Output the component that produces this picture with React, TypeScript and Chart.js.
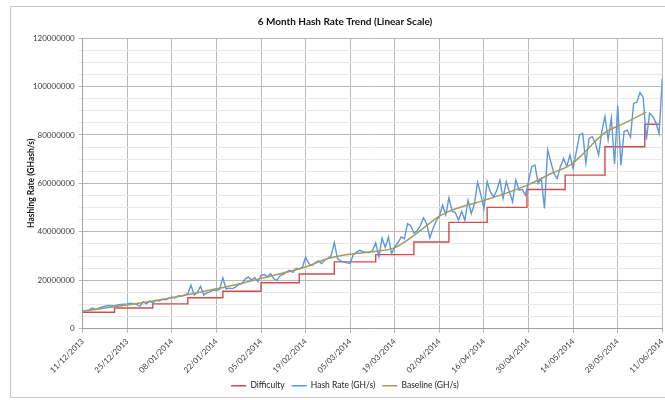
import React, { useEffect, useRef } from "react";
import { Chart, registerables } from "chart.js";

Chart.register(...registerables);

// ---- data (values in millions of GH/s) ----
const START_DATE_UTC = Date.UTC(2013, 11, 11); // 11/12/2013 = day 0
const xTickStepDays = 14;
const lastDay = 182;

// daily hash rate, index = day since 11/12/2013
const hashRate = [
  7.2, 7.5, 7.8, 8.6, 8.0, 8.5, 8.9, 9.3, 9.6, 9.5,
  9.4, 9.8, 10.0, 10.2, 10.3, 10.6, 10.4, 10.0, 9.4, 11.2,
  10.3, 11.5, 10.6, 11.8, 11.5, 12.2, 12.0, 12.6, 13.0, 12.8,
  13.6, 13.4, 14.0, 14.5, 18.0, 14.0, 15.0, 17.6, 14.0, 14.8,
  15.2, 16.0, 15.8, 16.2, 21.0, 16.5, 16.8, 16.6, 17.2, 18.3,
  18.6, 20.5, 21.4, 20.0, 21.2, 19.4, 22.0, 22.4, 21.5, 22.8,
  20.7, 20.0, 22.0, 22.5, 23.5, 24.1, 23.3, 25.0, 24.7, 25.5,
  29.6, 26.9, 26.2, 27.2, 28.0, 26.9, 28.3, 29.0, 30.2, 35.6,
  29.0, 28.0, 27.6, 27.2, 27.0, 30.8, 31.6, 32.4, 31.8, 31.6,
  31.5, 32.2, 35.5, 29.8, 37.4, 33.6, 37.8, 31.0, 33.8, 35.5,
  37.9, 37.2, 43.4, 42.5, 39.5, 40.5, 42.5, 45.8, 43.5, 37.5,
  41.4, 44.5, 46.5, 51.0, 47.0, 54.0, 48.5, 48.0, 44.8, 48.5,
  44.8, 53.0, 47.5, 51.5, 60.5, 55.5, 49.6, 60.7, 56.5, 54.4,
  57.0, 61.4, 53.8, 60.7, 56.5, 52.4, 61.4, 57.2, 57.5, 55.2,
  60.7, 66.9, 67.6, 60.0, 62.0, 49.7, 73.8, 68.9, 64.0, 62.0,
  66.9, 70.3, 67.0, 71.7, 66.2, 73.1, 80.0, 80.7, 68.3, 78.6,
  79.3, 76.6, 71.7, 81.4, 87.6, 78.0, 87.0, 68.0, 92.0, 67.5,
  81.4, 82.0, 79.0, 93.0, 93.5, 97.5, 95.5, 78.0, 89.0, 87.6,
  85.0, 80.5, 103.4,
];

// difficulty (as GH/s equivalent) changes
const diffDays = [0, 10, 22, 33, 44, 56, 68, 79, 92, 104, 115, 127, 139.5, 151.5, 164, 176.5, 181];
const diffLevels = [6.8, 8.6, 10.3, 12.8, 15.5, 19.0, 22.6, 27.6, 30.6, 35.8, 43.9, 50.1, 57.5, 63.4, 75.1, 84.4, 84.4];

// baseline trend
const baselineDays = [0, 14, 28, 42, 49, 56, 63, 70, 77, 84, 91, 98, 105, 112, 116, 126, 133, 140, 147, 153, 157, 161, 164, 170, 177];
const baselineValues = [7.3, 9.8, 12.8, 16.5, 18.5, 20.8, 23.0, 25.5, 29.0, 30.8, 31.8, 33.5, 39.5, 46.5, 49.0, 53.0, 56.0, 59.5, 64.0, 67.5, 72.0, 77.5, 81.0, 84.8, 89.4];

const M = 1000000;
const FONT = "Lato, 'Open Sans', sans-serif";
const RED = "#d24c4c";
const BLUE = "#5e97dd";
const TAN = "#a39c5e";

function fmtDate(days: number): string {
  const d = new Date(START_DATE_UTC + days * 86400000);
  const dd = String(d.getUTCDate()).padStart(2, "0");
  const mm = String(d.getUTCMonth() + 1).padStart(2, "0");
  return `${dd}/${mm}/${d.getUTCFullYear()}`;
}

export default function App() {
  const ref = useRef<HTMLCanvasElement | null>(null);

  useEffect(() => {
    if (!ref.current) return;
    const chart = new Chart(ref.current, {
      type: "line",
      data: {
        datasets: [
          {
            label: "Difficulty",
            data: diffDays.map((d, i) => ({ x: d, y: diffLevels[i] * M })),
            borderColor: RED,
            backgroundColor: RED,
            borderWidth: 1.4,
            pointRadius: 0,
            stepped: true,
            order: 3,
          },
          {
            label: "Hash Rate (GH/s)",
            data: hashRate.map((v, i) => ({ x: i, y: v * M })),
            borderColor: BLUE,
            backgroundColor: BLUE,
            borderWidth: 1.4,
            pointRadius: 0,
            order: 2,
          },
          {
            label: "Baseline (GH/s)",
            data: baselineDays.map((d, i) => ({ x: d, y: baselineValues[i] * M })),
            borderColor: TAN,
            backgroundColor: TAN,
            borderWidth: 1.5,
            pointRadius: 0,
            cubicInterpolationMode: "monotone",
            order: 1,
          },
        ],
      },
      options: {
        animation: false,
        responsive: false,
        maintainAspectRatio: false,
        layout: { padding: { left: 10, right: 10, top: 0, bottom: 0 } },
        plugins: {
          title: {
            display: true,
            text: "6 Month Hash Rate Trend (Linear Scale)",
            color: "#111",
            font: { family: FONT, size: 10, weight: "bold" },
            padding: { top: 16, bottom: 10 },
          },
          legend: {
            position: "bottom",
            labels: {
              usePointStyle: true,
              pointStyle: "line",
              pointStyleWidth: 15,
              boxWidth: 15,
              boxHeight: 8,
              padding: 7,
              color: "#222",
              font: { family: FONT, size: 8.5 },
              sort: (a: any, b: any) => a.datasetIndex - b.datasetIndex,
            },
          },
          tooltip: { enabled: false },
        },
        scales: {
          x: {
            type: "linear",
            min: 0,
            max: lastDay,
            ticks: {
              stepSize: xTickStepDays,
              autoSkip: false,
              minRotation: 45,
              maxRotation: 45,
              padding: 4,
              color: "#404040",
              font: { family: FONT, size: 8 },
              callback: (v: any) => fmtDate(Number(v)),
            },
            grid: { color: "#b8b8b8", tickLength: 4 },
            border: { color: "#a0a0a0" },
            afterFit: (s: any) => {
              s.height = 45.7;
            },
          },
          y: {
            min: 0,
            max: 120 * M,
            ticks: {
              stepSize: 5 * M,
              autoSkip: false,
              padding: 4,
              color: "#404040",
              font: { family: FONT, size: 8 },
              callback: (v: any) => (Number(v) % (20 * M) === 0 ? String(v) : ""),
            },
            grid: {
              color: (ctx: any) =>
                ctx.tick && ctx.tick.value % (20 * M) === 0 ? "#b8b8b8" : "#e8e8e8",
              tickLength: 4,
            },
            border: { color: "#a0a0a0" },
            title: {
              display: true,
              text: "Hashing Rate (GHash/s)",
              color: "#111",
              font: { family: FONT, size: 8.5, weight: "bold" },
              padding: { top: 16, bottom: 0 },
            },
            afterFit: (s: any) => {
              s.width = 72.7;
            },
          },
          yRight: {
            position: "right",
            display: true,
            ticks: { display: false },
            grid: { display: false, drawTicks: false },
            border: { display: false },
            afterFit: (s: any) => {
              s.width = 17.7;
            },
          },
        },
      },
    } as any);
    return () => chart.destroy();
  }, []);

  return (
    <div
      style={{
        position: "fixed",
        left: 0,
        top: 0,
        width: 665,
        height: 400,
        overflow: "hidden",
        background: "#fff",
      }}
    >
      <div
        style={{
          position: "absolute",
          left: 10,
          top: 6,
          width: 670,
          height: 392,
          border: "1px solid #c8c8c8",
          boxSizing: "border-box",
        }}
      />
      <canvas
        ref={ref}
        width={690}
        height={400}
        style={{ position: "absolute", left: 0, top: 0, width: 690, height: 400 }}
      />
    </div>
  );
}
